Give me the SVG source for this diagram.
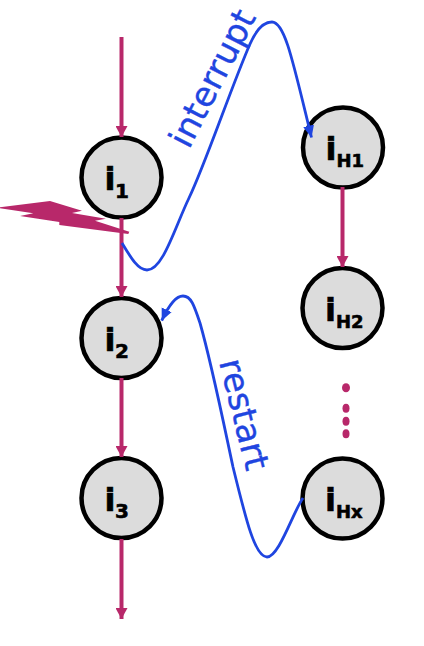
<svg xmlns="http://www.w3.org/2000/svg" width="424" height="646" viewBox="0 0 424 646">
<style>
.n{fill:#dcdcdc;stroke:#000;stroke-width:4.500}
.l{font-family:"DejaVu Sans",sans-serif;font-weight:bold;fill:#000;stroke:#000;stroke-width:.6}
.m{font-size:32px}.s{font-size:18px}.d{font-size:20px}
.c{fill:none;stroke:#b8286a;stroke-width:4}
.b{fill:none;stroke:#1f45e0;stroke-width:2.800}
.t{font-family:"DejaVu Sans",sans-serif;font-size:34px;fill:#1f45e0;stroke:#1f45e0;stroke-width:.4}
</style>
<defs>
<marker id="a" markerUnits="userSpaceOnUse" markerWidth="12" markerHeight="12" refX="11" refY="6" orient="auto"><path d="M0 0L11 6L0 12Z" fill="#b8286a"/></marker>
<marker id="ab" markerUnits="userSpaceOnUse" markerWidth="14" markerHeight="12" refX="12" refY="6" orient="auto"><path d="M0 .5L12 6L0 11.500Z" fill="#1f45e0"/></marker>
</defs>
<g id="i1"><circle class="n" cx="121.500" cy="177.500" r="40"/><text class="l m" x="104.500" y="190">i</text><text class="l d" x="115" y="197.700">1</text></g>
<g id="i2"><circle class="n" cx="121.500" cy="338" r="40"/><text class="l m" x="104.500" y="351">i</text><text class="l d" x="115" y="358">2</text></g>
<g id="i3"><circle class="n" cx="121.500" cy="498" r="40"/><text class="l m" x="104.500" y="511">i</text><text class="l d" x="115" y="518">3</text></g>
<g id="iH1"><circle class="n" cx="343" cy="147.500" r="40"/><text class="l m" x="325.500" y="160">i</text><text class="l s" x="336.500" y="167">H1</text></g>
<g id="iH2"><circle class="n" cx="342.500" cy="308" r="40"/><text class="l m" x="325" y="320.700">i</text><text class="l s" x="336" y="327.700">H2</text></g>
<g id="iHx"><circle class="n" cx="342.500" cy="498.500" r="40"/><text class="l m" x="325" y="510.700">i</text><text class="l s" x="336" y="518">Hx</text></g>
<g id="connectors">
<path class="c" marker-end="url(#a)" d="M121.500 37V137"/>
<path class="c" marker-end="url(#a)" d="M121.500 218V297"/>
<path class="c" marker-end="url(#a)" d="M121.500 378V457"/>
<path class="c" marker-end="url(#a)" d="M121.500 539V619"/>
<path class="c" marker-end="url(#a)" d="M342.500 187V267"/>
<path class="b" marker-end="url(#ab)" d="M122 243C131 258 138 270 147 270C163 270 175 227 189 198C205 165 232 85 250 44C257 28 265 22 272 22C285 22 293 62 311.500 137.500"/>
<path class="b" marker-end="url(#ab)" d="M303 498C293 512 279 557 267 557C255 557 246 520 233 467C225 430 212 365 200 323C194 305 191 296 183 296C175 296 168 307 161.700 320.700"/>
</g>
<path id="bolt" fill="#b8286a" d="M0 207.300L50 201L82 210.700L72 213L106 218.700L95 220.700L129.300 231.700L128.300 234L59.300 225L59.300 222L20 216L33.300 213.300L0 208.300Z"/>
<g id="dots" fill="#b8286a"><ellipse cx="346" cy="387.700" rx="4" ry="4.500"/><ellipse cx="346" cy="408.300" rx="3.500" ry="4.500"/><ellipse cx="346" cy="421.300" rx="3.500" ry="4.500"/><ellipse cx="346" cy="433.700" rx="3.500" ry="4.500"/></g>
<text class="t" transform="translate(189 150) rotate(-63)">interrupt</text>
<text class="t" transform="translate(219 362) rotate(76)">restart</text>
</svg>
